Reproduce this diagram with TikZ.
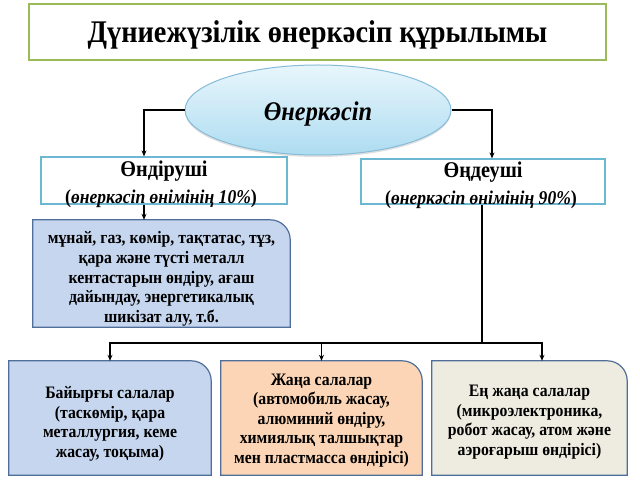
\documentclass[tikz,border=0pt]{standalone}
\usepackage{fontspec}
\setmainfont{Liberation Serif}[FakeStretch=0.9]
\usetikzlibrary{shapes.geometric,backgrounds,arrows.meta,shadows}
\definecolor{titlegreen}{HTML}{9BBB59}
\definecolor{cyanborder}{HTML}{6CB8D2}
\definecolor{darkborder}{HTML}{4F6E9A}
\definecolor{bluefill}{HTML}{C6D6EE}
\definecolor{peachfill}{HTML}{FBD5B5}
\definecolor{beigefill}{HTML}{EEECE1}
\definecolor{elltop}{HTML}{E8F6FC}
\definecolor{ellbot}{HTML}{AEDCF1}
\definecolor{ellborder}{HTML}{86BCD8}
\tikzset{
  arr/.style={line width=1.4pt,-{Stealth[length=6pt,width=5pt]}},
  conn/.style={line width=1.4pt},
  topbox/.style={draw=cyanborder,line width=1.2pt,fill=white,inner sep=0pt,align=center},
  cornerbox/.style={inner sep=0pt,align=center,font=\bfseries\fontsize{17.5}{19.6}\selectfont},
  headtext/.style={font=\bfseries\fontsize{22.5}{24}\selectfont},
  subtext/.style={font=\bfseries\fontsize{20}{22}\selectfont},
}
\newcommand{\cornershape}[2]{%
  \fill[#2] (#1.south west) -- (#1.north west) -- ([xshift=-20pt]#1.north east) arc[start angle=90,end angle=0,radius=20pt] -- (#1.south east) -- cycle;
  \draw[darkborder,line width=1.2pt] (#1.south west) -- (#1.north west) -- ([xshift=-20pt]#1.north east) arc[start angle=90,end angle=0,radius=20pt] -- (#1.south east) -- cycle;}
\newcommand{\pctit}[1]{\textit{\fontsize{19.5}{21}\selectfont #1}}
\begin{document}
\begin{tikzpicture}[x=1pt,y=1pt]
\useasboundingbox (0,0) rectangle (640,480);
% title
\node[draw=titlegreen,line width=1.3pt,minimum width=577pt,minimum height=56pt,inner sep=0pt] (title) at (317.5,448) {};
\node[font=\bfseries\fontsize{31.5}{33}\selectfont] (titletext) at (317.5,445) {Дүниежүзілік өнеркәсіп құрылымы};
% ellipse
\node[ellipse,draw=ellborder,line width=1pt,top color=elltop,bottom color=ellbot,
  drop shadow={shadow xshift=0pt,shadow yshift=-2pt,opacity=0.25},
  minimum width=266pt,minimum height=90pt,inner sep=0pt] (ell) at (318,370) {};
\node[font=\bfseries\itshape\fontsize{27}{29}\selectfont] (elltext) at (318,366) {Өнеркәсіп};
% top boxes
\node[topbox,minimum width=246pt,minimum height=47pt] (prod) at (164,299.5) {};
\node[headtext] (prodhead) at (164,309) {Өндіруші};
\node[subtext] (prodsub) at (161,281.5) {(\pctit{өнеркәсіп өнімінің 10\%})};
\node[topbox,minimum width=244pt,minimum height=45pt] (proc) at (483,298.5) {};
\node[headtext] (prochead) at (483,308) {Өңдеуші};
\node[subtext] (procsub) at (481,280.5) {(\pctit{өнеркәсіп өнімінің 90\%})};
% raw materials box
\node[cornerbox,minimum width=257pt,minimum height=107pt] (raw) at (161.5,206.5) {};
\node[cornerbox] (rawtext) at (161.5,201) {мұнай, газ, көмір, тақтатас, тұз,\\қара және түсті металл\\кентастарын өндіру, ағаш\\дайындау, энергетикалық\\шикізат алу, т.б.};
% bottom boxes
\node[cornerbox,minimum width=202pt,minimum height=114pt] (b1) at (110,62) {};
\node[cornerbox] (b1text) at (110,56) {Байырғы салалар\\(таскөмір, қара\\металлургия, кеме\\жасау, тоқыма)};
\node[cornerbox,minimum width=201pt,minimum height=114pt] (b2) at (321.5,62) {};
\node[cornerbox] (b2text) at (321.5,59.5) {Жаңа салалар\\(автомобиль жасау,\\алюминий өндіру,\\химиялық талшықтар\\мен пластмасса өндірісі)};
\node[cornerbox,minimum width=195pt,minimum height=114pt] (b3) at (529.5,62) {};
\node[cornerbox] (b3text) at (529.5,58) {Ең жаңа салалар\\(микроэлектроника,\\робот жасау, атом және\\аэроғарыш өндірісі)};
\begin{scope}[on background layer]
\cornershape{raw}{bluefill}
\cornershape{b1}{bluefill}
\cornershape{b2}{peachfill}
\cornershape{b3}{beigefill}
\end{scope}
% connectors
\draw[arr] (ell.west) -| ([xshift=-20pt]prod.north);
\draw[arr] (ell.east) -| ([xshift=9pt]proc.north);
\draw[arr] ([xshift=-20pt]prod.south) -- ([xshift=-20pt]prod.south |- raw.north);
\coordinate (hub) at (482,137);
\draw[conn] ([xshift=-1pt]proc.south) -- (hub);
\draw[arr] (hub) -| (b1.north);
\draw[arr] (hub) -| ([xshift=12.5pt]b3.north);
\draw[arr] (b2.north |- hub) -- (b2.north);
\end{tikzpicture}
\end{document}
